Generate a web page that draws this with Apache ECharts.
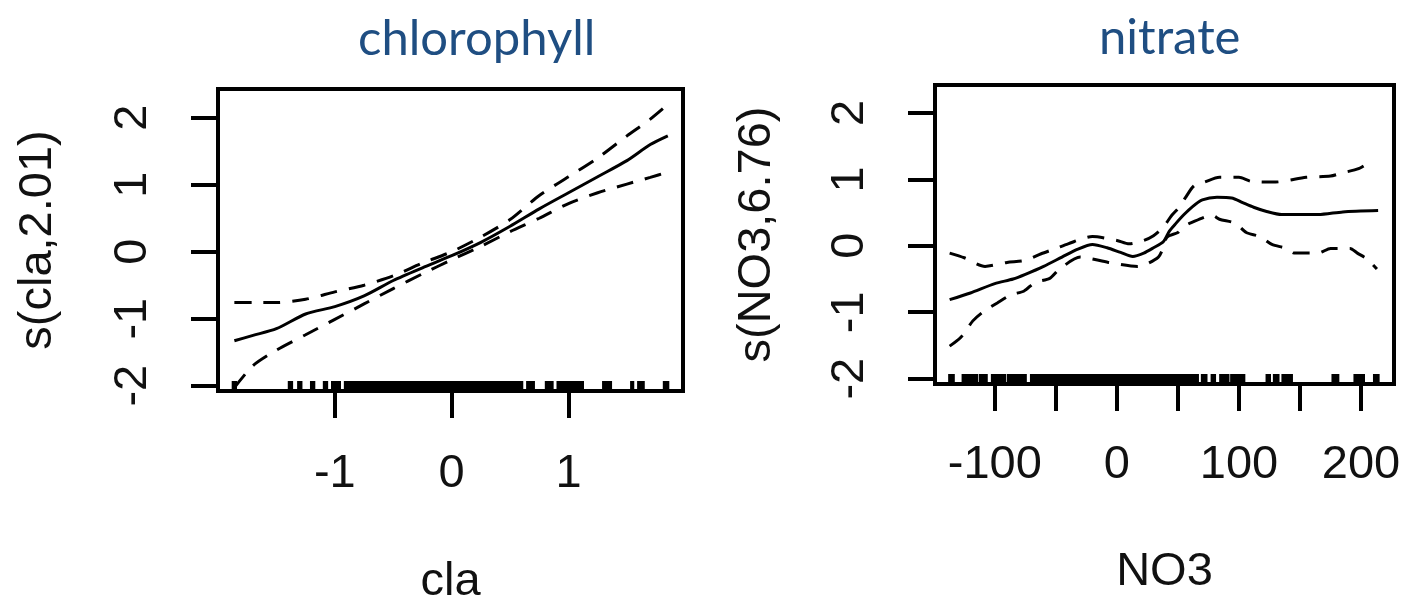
<!DOCTYPE html>
<html>
<head>
<meta charset="utf-8">
<script src="https://cdn.jsdelivr.net/npm/echarts@6/dist/echarts.min.js"></script>
<style>
html,body{margin:0;padding:0;background:#fff;}
#c{width:1401px;height:602px;}
</style>
</head>
<body>
<div id="c"></div>
<script>
// ---- chlorophyll panel (cla) ----
const CLA_X     = [-1.86,-1.7,-1.5,-1.25,-1,-0.75,-0.5,-0.25,0,0.25,0.5,0.75,1,1.25,1.5,1.7,1.85];
const CLA_FIT   = [-1.33,-1.25,-1.15,-0.93,-0.82,-0.66,-0.43,-0.24,-0.06,0.14,0.38,0.64,0.88,1.12,1.36,1.6,1.73];
const CLA_UPPER = [-0.76,-0.76,-0.76,-0.71,-0.6,-0.5,-0.36,-0.17,0.0,0.22,0.48,0.84,1.12,1.4,1.73,1.98,2.2];
const CLA_LOWER = [-2.03,-1.7,-1.47,-1.24,-1.01,-0.78,-0.55,-0.33,-0.12,0.08,0.3,0.5,0.72,0.88,1.01,1.11,1.19];
const CLA_RUG   = [[-1.87,-1.85],[-1.39,-1.37],[-1.31,-1.29],[-1.2,-1.18],[-1.09,-1.07],[-1.02,-0.96],[-0.91,0.6],[0.65,0.7],[0.81,0.86],[0.91,1.12],[1.3,1.36],[1.54,1.55],[1.6,1.64],[1.82,1.85]];
const CLA_XRANGE = [-2.0, 1.98];
const CLA_YRANGE = [-2.08, 2.43];
const CLA_XTICKS = [-1, 0, 1];
const CLA_YTICKS = [-2, -1, 0, 1, 2];

// ---- nitrate panel (NO3) ----
const NO3_FIT_X = [-137,-120,-100,-85,-75,-60,-45,-32,-20,-8,3,13,22,30,38,43,48,55,62,70,82,94,103,112,122,135,165,185,214];
const NO3_FIT   = [-0.81,-0.71,-0.57,-0.5,-0.43,-0.31,-0.17,-0.05,0.02,-0.03,-0.1,-0.16,-0.11,-0.03,0.06,0.22,0.33,0.47,0.59,0.69,0.73,0.72,0.65,0.58,0.52,0.47,0.47,0.51,0.53];
const NO3_UP_X  = [-137,-125,-108,-90,-75,-62,-50,-40,-20,0,10,22,30,38,45,50,56,63,72,84,100,110,130,155,175,185,198,210];
const NO3_UP    = [-0.11,-0.18,-0.31,-0.25,-0.22,-0.12,-0.04,0.03,0.14,0.08,0.03,0.08,0.15,0.28,0.46,0.56,0.72,0.9,0.96,1.03,1.03,0.97,0.96,1.03,1.05,1.1,1.16,1.3];
const NO3_LO_X  = [-137,-128,-118,-110,-98,-87,-76,-67,-55,-47,-30,-7,17,25,34,37,41,50,54,60,78,84,97,106,117,127,139,145,165,175,191,197,205,213];
const NO3_LO    = [-1.51,-1.38,-1.13,-1.0,-0.86,-0.74,-0.68,-0.55,-0.49,-0.35,-0.17,-0.25,-0.31,-0.27,-0.17,-0.07,0.13,0.2,0.28,0.34,0.46,0.4,0.34,0.2,0.14,0.02,-0.04,-0.11,-0.11,-0.04,-0.04,-0.11,-0.2,-0.35];
const NO3_RUG   = [[-137,-134],[-126,-115],[-112,-107],[-102,-92],[-89,-75],[-70,66],[70,73],[78,80],[85,91],[94,104],[123,125],[129,132],[136,143],[177,181],[195,202],[211,214]];
const NO3_XRANGE = [-149, 227];
const NO3_YRANGE = [-2.08, 2.42];
const NO3_XTICKS = [-100, -50, 0, 50, 100, 150, 200];
const NO3_XLABELS = [-100, 0, 100, 200];
const NO3_YTICKS = [-2, -1, 0, 1, 2];

const TITLES = ['chlorophyll', 'nitrate'];
const XNAMES = ['cla', 'NO3'];
const YNAMES = ['s(cla,2.01)', 's(NO3,6.76)'];

const zip = (xs, ys) => xs.map((x, i) => [x, ys[i]]);
const AXFONT = 'Liberation Sans, Arial, sans-serif';
const INK = '#111';

function xAxisCfg(idx, range, ticks, labels, nameGap, margin) {
  return {
    type: 'value', gridIndex: idx, min: range[0], max: range[1],
    name: XNAMES[idx], nameLocation: 'middle', nameGap: nameGap,
    nameTextStyle: {fontFamily: AXFONT, fontSize: 47, color: INK, lineHeight: 47},
    axisLine: {show: false, onZero: false},
    axisTick: {show: true, length: 27, customValues: ticks, lineStyle: {color: '#000', width: 4}},
    axisLabel: {customValues: labels, margin: margin, fontFamily: AXFONT, fontSize: 47, color: INK, lineHeight: 47},
    splitLine: {show: false}
  };
}
function yAxisCfg(idx, range, ticks, nameGap, margin) {
  return {
    type: 'value', gridIndex: idx, min: range[0], max: range[1],
    name: YNAMES[idx], nameLocation: 'middle', nameGap: nameGap, nameRotate: 90,
    nameTextStyle: {fontFamily: AXFONT, fontSize: 47, color: INK, lineHeight: 47},
    axisLine: {show: false, onZero: false},
    axisTick: {show: true, length: 27, customValues: ticks, lineStyle: {color: '#000', width: 4}},
    axisLabel: {customValues: ticks, rotate: 90, margin: margin, fontFamily: AXFONT, fontSize: 47, color: INK, lineHeight: 47},
    splitLine: {show: false}
  };
}
function lineSeries(idx, data, dashed) {
  return {
    type: 'line', xAxisIndex: idx, yAxisIndex: idx, data: data,
    showSymbol: false, symbol: 'none', smooth: 0.25, silent: true,
    lineStyle: {color: '#000', width: 3, type: dashed ? [17, 12] : 'solid'}
  };
}
function rugSeries(idx, rug, yMin) {
  return {
    type: 'custom', xAxisIndex: idx, yAxisIndex: idx, silent: true,
    data: rug.map(r => [r[0], r[1], yMin]),
    encode: {x: [0, 1], y: 2},
    renderItem: function (params, api) {
      const p0 = api.coord([api.value(0), api.value(2)]);
      const p1 = api.coord([api.value(1), api.value(2)]);
      const w = Math.max(p1[0] - p0[0], 0) + 3;
      return {type: 'rect', shape: {x: p0[0] - 1.5, y: p0[1] - 10, width: w, height: 10}, style: {fill: '#000'}};
    }
  };
}

const chart = echarts.init(document.getElementById('c'), null, {renderer: 'canvas'});
chart.setOption({
  animation: false,
  backgroundColor: '#fff',
  title: [
    {text: TITLES[0], left: 353, top: 5, textStyle: {fontFamily: 'Lato, sans-serif', fontSize: 49, fontWeight: 'normal', color: '#1F4E82', lineHeight: 58}},
    {text: TITLES[1], left: 1094, top: 4, textStyle: {fontFamily: 'Lato, sans-serif', fontSize: 49, fontWeight: 'normal', color: '#1F4E82', lineHeight: 58}}
  ],
  grid: [
    {left: 218, top: 89, width: 465, height: 302, show: true, borderColor: '#000', borderWidth: 4, backgroundColor: 'transparent', outerBoundsMode: 'none', containLabel: false},
    {left: 935, top: 85, width: 459, height: 299, show: true, borderColor: '#000', borderWidth: 4, backgroundColor: 'transparent', outerBoundsMode: 'none', containLabel: false}
  ],
  xAxis: [
    xAxisCfg(0, CLA_XRANGE, CLA_XTICKS, CLA_XTICKS, 168, 60),
    xAxisCfg(1, NO3_XRANGE, NO3_XTICKS, NO3_XLABELS, 165, 58)
  ],
  yAxis: [
    yAxisCfg(0, CLA_YRANGE, CLA_YTICKS, 156, 61),
    yAxisCfg(1, NO3_YRANGE, NO3_YTICKS, 154, 61)
  ],
  series: [
    lineSeries(0, zip(CLA_X, CLA_FIT), false),
    lineSeries(0, zip(CLA_X, CLA_UPPER), true),
    lineSeries(0, zip(CLA_X, CLA_LOWER), true),
    rugSeries(0, CLA_RUG, CLA_YRANGE[0]),
    lineSeries(1, zip(NO3_FIT_X, NO3_FIT), false),
    lineSeries(1, zip(NO3_UP_X, NO3_UP), true),
    lineSeries(1, zip(NO3_LO_X, NO3_LO), true),
    rugSeries(1, NO3_RUG, NO3_YRANGE[0])
  ]
});
</script>
</body>
</html>
